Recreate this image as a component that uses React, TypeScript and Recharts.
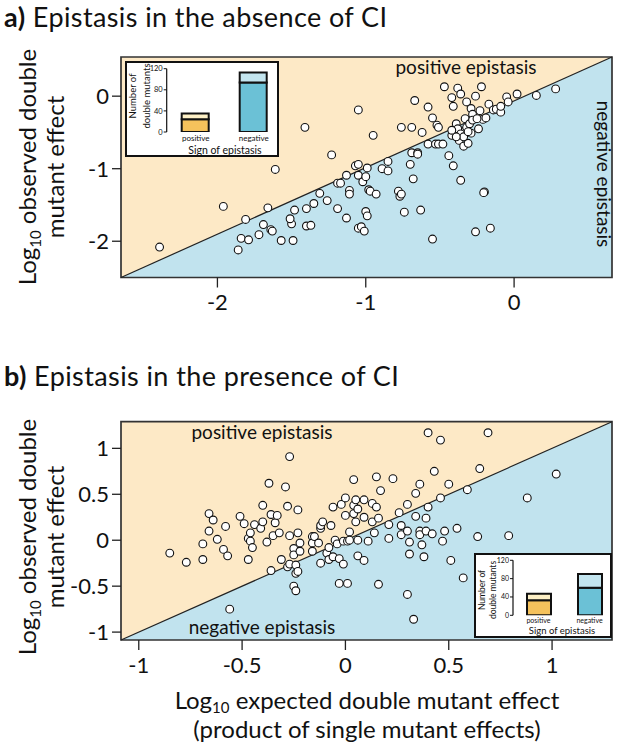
import React from 'react';
import {
  ScatterChart,
  Scatter,
  XAxis,
  YAxis,
  ReferenceArea,
  ReferenceLine,
  BarChart,
  Bar,
  Cell,
} from 'recharts';

const FONT = 'Lato, "Noto Sans", sans-serif';
const YELLOW = '#fde9c6';
const BLUE = '#c1e3ee';
const INK = '#111';

// ---------- panel a (absence of CI) ----------
const panelADomainX: [number, number] = [-2.65, 0.66];
const panelADomainY: [number, number] = [-2.5, 0.54];
const panelATicksX = [-2, -1, 0];
const panelATicksY = [-2, -1, 0];
const panelAPoints: [number, number][] = [
  [-2.39, -2.08], [-1.96, -1.52], [-1.61, -1.01], [-1.41, -0.43], [-1.05, -0.19], [-0.95, -0.54], [-1.23, -0.81],
  [-1.81, -1.7], [-1.84, -1.96], [-1.79, -1.98], [-1.86, -2.12], [-1.72, -1.91], [-1.69, -1.77], [-1.64, -1.84],
  [-1.63, -1.86], [-1.66, -1.54], [-1.57, -1.99], [-1.49, -1.99], [-1.5, -1.76], [-1.51, -1.69], [-1.48, -1.57],
  [-1.4, -1.55], [-1.4, -1.79], [-1.37, -1.78], [-1.35, -1.48], [-1.31, -1.34], [-1.26, -1.44], [-1.19, -1.55],
  [-1.19, -1.2], [-1.17, -1.2], [-1.13, -1.09], [-1.13, -1.68], [-1.11, -1.3], [-1.11, -1.35], [-1.07, -0.96],
  [-1.05, -0.94], [-1.05, -1.09], [-1.02, -1.18], [-0.99, -0.99], [-1.0, -1.11], [-0.98, -1.29], [-0.97, -1.31],
  [-0.93, -1.35], [-1.0, -1.59], [-0.99, -1.65], [-1.05, -1.82], [-1.03, -1.8], [-1.01, -1.86], [-0.89, -1.0],
  [-0.85, -0.9], [-0.85, -1.03], [-0.78, -1.31], [-0.77, -1.38], [-0.74, -1.6], [-0.76, -0.43], [-0.69, -0.43],
  [-0.67, -0.06], [-0.7, -0.94], [-0.68, -1.14], [-0.69, -0.78], [-0.65, -0.78], [-0.65, -0.8], [-0.62, -0.5],
  [-0.58, -0.15], [-0.58, -0.66], [-0.63, -1.57], [-0.55, -0.3], [-0.52, -0.4], [-0.51, -0.43], [-0.53, -0.66],
  [-0.51, -0.66], [-0.48, -0.66], [-0.55, -1.97], [-0.47, 0.13], [-0.44, -0.82], [-0.42, -0.02], [-0.41, -0.14],
  [-0.41, -0.96], [-0.42, -0.54], [-0.38, 0.11], [-0.36, 0.03], [-0.39, -0.38], [-0.37, -0.47], [-0.37, -0.61],
  [-0.36, -1.16], [-0.34, -0.49], [-0.33, -0.31], [-0.32, -0.08], [-0.34, -0.69], [-0.31, -0.65], [-0.32, -0.43],
  [-0.3, -0.38], [-0.29, -0.17], [-0.28, -0.25], [-0.29, -0.51], [-0.26, 0.0], [-0.26, -1.87], [-0.24, -0.45],
  [-0.23, -0.2], [-0.22, 0.13], [-0.21, -0.32], [-0.2, -1.32], [-0.205, -1.33], [-0.19, -0.3], [-0.17, -0.11],
  [-0.16, -1.82], [-0.14, -0.19], [-0.12, -0.18], [-0.09, -0.22], [-0.09, -0.14], [-0.05, -0.01], [-0.04, -0.08],
  [0.02, 0.03], [0.15, 0.01], [0.28, 0.1], [-0.76, -1.35], [-0.38, -0.45], [-0.36, -0.52], [-0.34, -0.56],
  [-0.28, -0.33], [-0.25, -0.31], [-0.39, -0.56], [-0.31, -0.49], [-0.42, -0.47],
];

// ---------- panel b (presence of CI) ----------
const panelBDomain: [number, number] = [-1.086, 1.29];
const panelBTicks = [-1, -0.5, 0, 0.5, 1];
const panelBPoints: [number, number][] = [
  [-0.85, -0.14], [-0.77, -0.24], [-0.66, 0.29], [-0.64, 0.22], [-0.66, 0.1], [-0.62, 0.01], [-0.69, -0.04],
  [-0.69, -0.21], [-0.58, 0.15], [-0.59, -0.1], [-0.57, -0.17], [-0.56, -0.75], [-0.51, 0.26], [-0.49, 0.18],
  [-0.47, 0.02], [-0.46, 0.08], [-0.46, -0.01], [-0.45, -0.08], [-0.47, -0.21], [-0.44, 0.17], [-0.41, 0.13],
  [-0.4, 0.38], [-0.4, 0.2], [-0.38, -0.02], [-0.37, 0.62], [-0.36, 0.28], [-0.35, 0.05], [-0.36, -0.33],
  [-0.34, 0.19], [-0.33, 0.27], [-0.32, 0.08], [-0.31, -0.21], [-0.29, 0.58], [-0.27, 0.91], [-0.28, 0.37],
  [-0.27, 0.05], [-0.28, -0.29], [-0.27, -0.26], [-0.25, -0.09], [-0.25, -0.16], [-0.23, 0.08], [-0.23, 0.33],
  [-0.22, -0.12], [-0.22, -0.03], [-0.24, -0.27], [-0.24, -0.36], [-0.23, -0.34], [-0.25, -0.5], [-0.24, -0.55],
  [-0.16, 0.04], [-0.16, -0.03], [-0.15, 0.04], [-0.16, -0.12], [-0.13, -0.03], [-0.12, 0.13], [-0.12, 0.16],
  [-0.11, 0.2], [-0.12, -0.25], [-0.09, -0.14], [-0.08, -0.08], [-0.08, -0.21], [-0.07, 0.16], [-0.06, -0.18],
  [-0.06, 0.36], [-0.05, 0.0], [-0.04, -0.04], [-0.03, -0.47], [-0.03, -0.2], [-0.02, 0.39], [-0.01, -0.01],
  [-0.01, -0.26], [0.0, 0.46], [0.0, 0.27], [0.01, -0.01], [0.01, -0.47], [0.02, 0.09], [0.02, 0.0],
  [0.04, 0.66], [0.04, 0.38], [0.04, 0.29], [0.05, 0.44], [0.05, 0.2], [0.06, 0.34], [0.06, 0.0],
  [0.06, -0.17], [0.09, -0.22], [0.09, 0.44], [0.09, 0.25], [0.11, -0.01], [0.13, 0.4], [0.13, 0.2],
  [0.14, 0.08], [0.15, 0.36], [0.15, 0.69], [0.17, 0.54], [0.16, 0.24], [0.16, -0.48], [0.21, 0.17],
  [0.21, 0.02], [0.23, 0.67], [0.26, 0.3], [0.27, 0.06], [0.27, 0.16], [0.3, 0.39], [0.3, 0.1],
  [0.31, -0.02], [0.31, -0.15], [0.3, -0.59], [0.33, -0.86], [0.34, 0.51], [0.34, 0.26], [0.36, 0.61],
  [0.36, 0.1], [0.36, 0.06], [0.37, -0.05], [0.38, -0.18], [0.39, 0.24], [0.4, 1.17], [0.39, 0.1],
  [0.4, 0.36], [0.42, 0.07], [0.43, 0.75], [0.46, 0.46], [0.46, 1.09], [0.47, -0.01], [0.48, 0.1],
  [0.5, 0.61], [0.51, -0.22], [0.54, 0.13], [0.57, -0.41], [0.59, 0.55], [0.64, 0.04], [0.65, 0.78],
  [0.69, 1.17], [0.79, 0.05], [0.88, 0.46], [1.02, 0.72],
];

// ---------- insets (number of double mutants by sign of epistasis) ----------
const insetCategories = ['positive', 'negative'];
const insetTicks = [0, 40, 80, 120];
const insetAStrong = [24, 94];
const insetAWeak = [11, 19];
const insetBStrong = [33, 60];
const insetBWeak = [14, 30];
const strongColors = ['#f5c25c', '#6bc1d6'];
const weakColors = ['#fdf0c6', '#c3e5ef'];

const toXY = (pts: [number, number][]) => pts.map(([x, y]) => ({ x, y }));

const Triangle = (props: any) => {
  const { x, y, width, height } = props;
  return <path d={`M${x},${y + height}L${x + width},${y}L${x + width},${y + height}Z`} fill={BLUE} stroke="none" />;
};

const Ring = (props: any) => (
  <circle cx={props.cx} cy={props.cy} r={3.9} fill="#fff" stroke={INK} strokeWidth={1.1} />
);

type MainProps = {
  top: number;
  height: number;
  plotTop: number;
  plotBottom: number;
  points: [number, number][];
  domainX: [number, number];
  domainY: [number, number];
  ticksX: number[];
  ticksY: number[];
};

function MainPanel({ top, height, plotTop, plotBottom, points, domainX, domainY, ticksX, ticksY }: MainProps) {
  const tickStyle = { fill: INK, fontSize: 22, fontFamily: FONT };
  return (
    <div style={{ position: 'absolute', left: 0, top, width: 617, height }}>
      <ScatterChart width={617} height={height} margin={{ top: plotTop, right: 5, bottom: 0, left: 0 }}>
        <XAxis
          type="number"
          dataKey="x"
          domain={domainX}
          ticks={ticksX}
          interval={0}
          allowDataOverflow
          axisLine={false}
          tickLine={{ stroke: '#222', strokeWidth: 1.3 }}
          tickSize={10}
          tickMargin={7}
          height={height - plotBottom}
          tick={tickStyle}
        />
        <YAxis
          type="number"
          dataKey="y"
          domain={domainY}
          ticks={ticksY}
          interval={0}
          allowDataOverflow
          axisLine={false}
          tickLine={{ stroke: '#222', strokeWidth: 1.3 }}
          tickSize={9}
          tickMargin={3}
          width={121}
          tick={tickStyle}
        />
        <ReferenceArea
          x1={domainX[0]}
          x2={domainX[1]}
          y1={domainY[0]}
          y2={domainY[1]}
          fill={YELLOW}
          fillOpacity={1}
          stroke="none"
        />
        <ReferenceArea
          x1={domainX[0]}
          x2={domainX[1]}
          y1={domainY[0]}
          y2={domainY[1]}
          shape={Triangle}
        />
        <ReferenceLine
          segment={[
            { x: domainX[0], y: domainY[0] },
            { x: domainX[1], y: domainY[1] },
          ]}
          stroke="#222"
          strokeWidth={1.2}
        />
        <Scatter data={toXY(points)} shape={Ring} isAnimationActive={false} />
        <ReferenceArea
          x1={domainX[0]}
          x2={domainX[1]}
          y1={domainY[0]}
          y2={domainY[1]}
          fill="none"
          fillOpacity={0}
          stroke="#333"
          strokeWidth={1.7}
        />
      </ScatterChart>
    </div>
  );
}

type InsetProps = {
  left: number;
  top: number;
  boxW: number;
  boxH: number;
  chartW: number;
  yAxisW: number;
  plotTop: number;
  plotBottom: number;
  plotRight: number;
  strong: number[];
  weak: number[];
  barSize: number;
  catFont: number;
  tickFont: number;
};

function Inset({ left, top, boxW, boxH, chartW, yAxisW, plotTop, plotBottom, plotRight, strong, weak, barSize, catFont, tickFont }: InsetProps) {
  const data = insetCategories.map((name, i) => ({ name, strong: strong[i], weak: weak[i] }));
  return (
    <>
      <div
        style={{
          position: 'absolute',
          left,
          top,
          width: boxW,
          height: boxH,
          boxSizing: 'border-box',
          border: `2px solid ${INK}`,
          background: '#fff',
        }}
      />
      <div style={{ position: 'absolute', left, top, width: chartW, height: boxH }}>
        <BarChart
          width={chartW}
          height={boxH}
          data={data}
          barSize={barSize}
          margin={{ top: plotTop, right: chartW - plotRight, left: 0, bottom: 0 }}
        >
          <XAxis
            dataKey="name"
            interval={0}
            axisLine={false}
            tickLine={false}
            tickSize={0}
            tickMargin={3}
            height={boxH - plotBottom}
            tick={{ fill: INK, fontSize: catFont, fontFamily: FONT }}
          />
          <YAxis
            type="number"
            domain={[0, 120]}
            ticks={insetTicks}
            interval={0}
            allowDataOverflow
            width={yAxisW}
            axisLine={{ stroke: INK, strokeWidth: 1.2 }}
            tickLine={{ stroke: INK, strokeWidth: 1 }}
            tickSize={3}
            tickMargin={1}
            tick={{ fill: INK, fontSize: tickFont, fontFamily: FONT }}
          />
          <Bar dataKey="strong" stackId="s" stroke={INK} strokeWidth={2} isAnimationActive={false}>
            {data.map((d, i) => (
              <Cell key={d.name} fill={strongColors[i]} />
            ))}
          </Bar>
          <Bar dataKey="weak" stackId="s" stroke={INK} strokeWidth={2} isAnimationActive={false}>
            {data.map((d, i) => (
              <Cell key={d.name} fill={weakColors[i]} />
            ))}
          </Bar>
        </BarChart>
      </div>
    </>
  );
}

function YLabel({ cy }: { cy: number }) {
  return (
    <>
      <text transform={`translate(36,${cy}) rotate(-90)`} textAnchor="middle" fontSize={24}>
        Log<tspan fontSize={15} dy={5}>10</tspan>
        <tspan dy={-5}> observed double</tspan>
      </text>
      <text transform={`translate(64,${cy}) rotate(-90)`} textAnchor="middle" fontSize={24}>
        mutant effect
      </text>
    </>
  );
}

function InsetLabels({ cx, titleY, titleFont, ly1, ly2, lcy, labelFont }: any) {
  return (
    <>
      <text x={cx} y={titleY} textAnchor="middle" fontSize={titleFont}>
        Sign of epistasis
      </text>
      <text transform={`translate(${ly1},${lcy}) rotate(-90)`} textAnchor="middle" fontSize={labelFont}>
        Number of
      </text>
      <text transform={`translate(${ly2},${lcy}) rotate(-90)`} textAnchor="middle" fontSize={labelFont}>
        double mutants
      </text>
    </>
  );
}

export default function App() {
  return (
    <div style={{ position: 'absolute', left: 0, top: 0, width: 617, height: 748, background: '#fff', fontFamily: FONT }}>
      <MainPanel
        top={0}
        height={340}
        plotTop={57}
        plotBottom={277.5}
        points={panelAPoints}
        domainX={panelADomainX}
        domainY={panelADomainY}
        ticksX={panelATicksX}
        ticksY={panelATicksY}
      />
      <MainPanel
        top={364}
        height={320}
        plotTop={57.7}
        plotBottom={276}
        points={panelBPoints}
        domainX={panelBDomain}
        domainY={panelBDomain}
        ticksX={panelBTicks}
        ticksY={panelBTicks}
      />
      <Inset
        left={125}
        top={61}
        boxW={154}
        boxH={96}
        chartW={160}
        yAxisW={41.7}
        plotTop={7.7}
        plotBottom={71}
        plotRight={157.7}
        strong={insetAStrong}
        weak={insetAWeak}
        barSize={27}
        catFont={8}
        tickFont={7.5}
      />
      <Inset
        left={473.5}
        top={552.7}
        boxW={138}
        boxH={85}
        chartW={145}
        yAxisW={39}
        plotTop={7.3}
        plotBottom={62.3}
        plotRight={141}
        strong={insetBStrong}
        weak={insetBWeak}
        barSize={24}
        catFont={7}
        tickFont={7}
      />
      <svg
        width={617}
        height={748}
        style={{ position: 'absolute', left: 0, top: 0, pointerEvents: 'none' }}
        fontFamily={FONT}
        fill={INK}
      >
        <text x={4} y={26.5} fontSize={27} letterSpacing={0.4}>
          <tspan fontWeight="bold">a)</tspan> Epistasis in the absence of CI
        </text>
        <text x={4} y={385.5} fontSize={27} letterSpacing={0.4}>
          <tspan fontWeight="bold">b)</tspan> Epistasis in the presence of CI
        </text>
        <YLabel cy={167} />
        <YLabel cy={537} />
        <text x={367} y={709} textAnchor="middle" fontSize={24}>
          Log<tspan fontSize={15} dy={4}>10</tspan>
          <tspan dy={-4}> expected double mutant effect</tspan>
        </text>
        <text x={367} y={738} textAnchor="middle" fontSize={24}>
          (product of single mutant effects)
        </text>
        <text x={466} y={74} textAnchor="middle" fontSize={19}>
          positive epistasis
        </text>
        <text transform="translate(597,174) rotate(90)" textAnchor="middle" fontSize={19}>
          negative epistasis
        </text>
        <text x={262} y={439} textAnchor="middle" fontSize={19}>
          positive epistasis
        </text>
        <text x={262} y={634} textAnchor="middle" fontSize={19}>
          negative epistasis
        </text>
        <InsetLabels cx={225} titleY={153.5} titleFont={10.5} ly1={136} ly2={149.5} lcy={96} labelFont={9.5} />
        <InsetLabels cx={562} titleY={634} titleFont={9.5} ly1={484.5} ly2={495.5} lcy={590} labelFont={8.5} />
      </svg>
    </div>
  );
}
